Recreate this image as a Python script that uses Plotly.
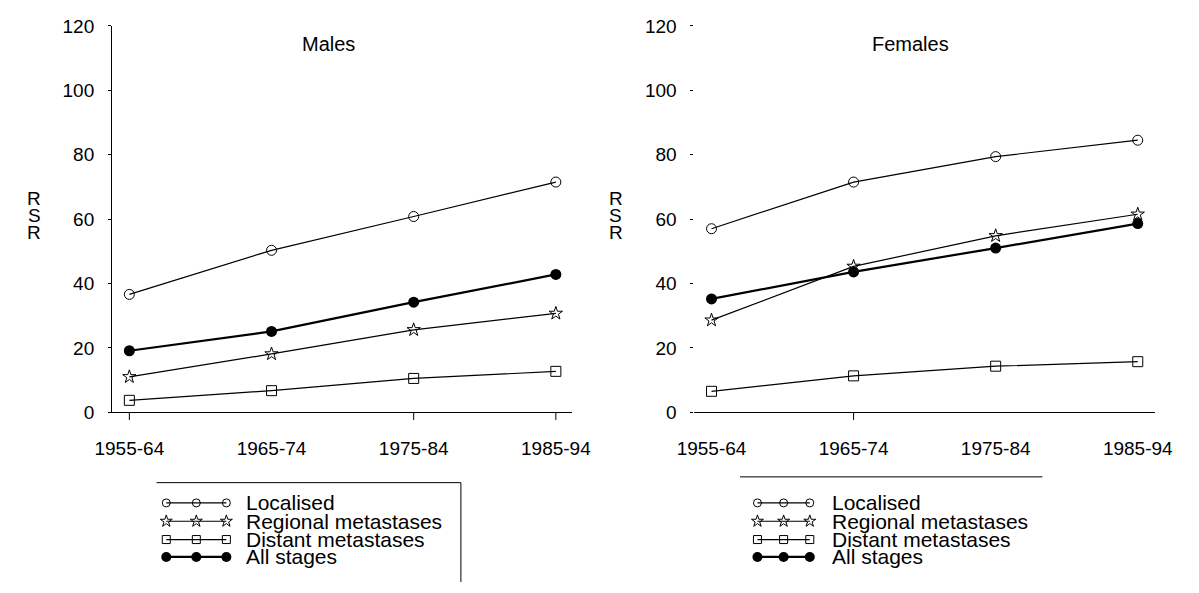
import plotly.graph_objects as go

# Period categories on the x axis
periods = ["1955-64", "1965-74", "1975-84", "1985-94"]

# Relative survival rate (%) by stage, males
males_localised = [36.6, 50.3, 60.8, 71.5]
males_regional = [11.0, 18.1, 25.6, 30.7]
males_distant = [3.7, 6.7, 10.5, 12.7]
males_all = [19.1, 25.1, 34.2, 42.8]

# Relative survival rate (%) by stage, females
females_localised = [57.0, 71.5, 79.4, 84.5]
females_regional = [28.6, 45.3, 54.8, 61.5]
females_distant = [6.5, 11.3, 14.3, 15.7]
females_all = [35.2, 43.6, 51.0, 58.6]

y_ticks = [0, 20, 40, 60, 80, 100, 120]
stage_names = ["Localised", "Regional metastases", "Distant metastases", "All stages"]

W, H = 1199, 593
FONT = "Liberation Sans, Arial, Helvetica, sans-serif"
BLACK = "#000000"

# marker / line style per stage (plot size, legend size)
styles = {
    "Localised": dict(symbol="circle-open", size=10, lsize=8, lw=1.2, mlw=1),
    "Regional metastases": dict(symbol="star-open", size=10, lsize=9, lw=1.2, mlw=1),
    "Distant metastases": dict(symbol="square-open", size=10, lsize=8, lw=1.2, mlw=1),
    "All stages": dict(symbol="circle", size=11, lsize=10, lw=2.2, mlw=0),
}

fig = go.Figure()


def add_series(values, name, xa, ya):
    st = styles[name]
    fig.add_trace(go.Scatter(
        x=periods, y=values, name=name, mode="lines+markers",
        xaxis=xa, yaxis=ya, showlegend=False,
        line=dict(color=BLACK, width=st["lw"]),
        marker=dict(symbol=st["symbol"], size=st["size"], color=BLACK,
                    line=dict(color=BLACK, width=st["mlw"])),
    ))


for vals, nm in zip([males_localised, males_regional, males_distant, males_all], stage_names):
    add_series(vals, nm, "x", "y")
for vals, nm in zip([females_localised, females_regional, females_distant, females_all], stage_names):
    add_series(vals, nm, "x2", "y2")

# ---- hand-drawn legends on an invisible pixel-scaled overlay axis ----
legend_rows = [511, 530, 549, 567]
legend_blocks = [
    dict(xs=[153, 184, 215], text_x=233),
    dict(xs=[763, 790, 817], text_x=838),
]
annotations = []
for blk in legend_blocks:
    for nm, ry in zip(stage_names, legend_rows):
        st = styles[nm]
        fig.add_trace(go.Scatter(
            x=blk["xs"], y=[ry] * len(blk["xs"]), mode="lines+markers",
            xaxis="x3", yaxis="y3", showlegend=False, hoverinfo="skip",
            line=dict(color=BLACK, width=st["lw"]),
            marker=dict(symbol=st["symbol"], size=st["lsize"], color=BLACK,
                        line=dict(color=BLACK, width=st["mlw"])),
        ))
        annotations.append(dict(
            x=blk["text_x"], y=ry, xref="x3", yref="y3", text=nm,
            showarrow=False, xanchor="left", yanchor="middle",
            font=dict(family=FONT, size=21, color=BLACK),
        ))

# panel titles
for txt, cx in [("Males", 320), ("Females", 921)]:
    annotations.append(dict(
        x=cx, y=35, xref="x3", yref="y3", text=txt, showarrow=False,
        xanchor="center", yanchor="middle",
        font=dict(family=FONT, size=20, color=BLACK),
    ))

# stacked y-axis titles
for cx in [17, 617]:
    for letter, ly in zip(["R", "S", "R"], [195, 213, 231]):
        annotations.append(dict(
            x=cx, y=ly, xref="x3", yref="y3", text=letter, showarrow=False,
            xanchor="center", yanchor="middle",
            font=dict(family=FONT, size=19, color=BLACK),
        ))

# legend frame lines and x tick marks
shapes = [
    dict(type="line", xref="x3", yref="y3", x0=143, x1=457, y0=490, y1=490,
         line=dict(color=BLACK, width=1)),
    dict(type="line", xref="x3", yref="y3", x0=457, x1=457, y0=490, y1=593,
         line=dict(color=BLACK, width=1)),
    dict(type="line", xref="x3", yref="y3", x0=745, x1=1057, y0=484, y1=484,
         line=dict(color=BLACK, width=1)),
]
for xa, idxs in [("x", [0, 2, 3]), ("x2", [1])]:
    ya = "y" if xa == "x" else "y2"
    for i in idxs:
        shapes.append(dict(type="line", xref=xa, yref=ya + " domain",
                           x0=i, x1=i, y0=0, y1=-0.02,
                           line=dict(color=BLACK, width=1)))

y_bottom = (H - 417) / H
y_top = (H - 16.5) / H

common_x = dict(type="category", categoryorder="array", categoryarray=periods,
                showgrid=False, zeroline=False, ticks="",
                tickfont=dict(family=FONT, size=19, color=BLACK),
                ticklabelstandoff=19, showline=True, linecolor=BLACK, linewidth=1)
common_y = dict(range=[0, 120], tickvals=y_ticks, showgrid=False, zeroline=False,
                ticks="outside", ticklen=3, tickcolor=BLACK, tickwidth=1,
                tickfont=dict(family=FONT, size=19, color=BLACK),
                ticklabelstandoff=10, domain=[y_bottom, y_top])

fig.update_layout(
    width=W, height=H,
    margin=dict(l=0, r=0, t=0, b=0),
    paper_bgcolor="white", plot_bgcolor="rgba(0,0,0,0)",
    font=dict(family=FONT, color=BLACK),
    xaxis=dict(domain=[97 / W, 572 / W], range=[-0.122, 3.116], anchor="y", **common_x),
    yaxis=dict(anchor="x", showline=True, linecolor=BLACK, linewidth=1, **common_y),
    xaxis2=dict(domain=[698 / W, 1173 / W], range=[-0.12, 3.12], anchor="y2", **common_x),
    yaxis2=dict(anchor="x2", showline=False, **common_y),
    xaxis3=dict(domain=[0, 1], range=[0, W], visible=False, fixedrange=True, anchor="y3"),
    yaxis3=dict(domain=[0, 1], range=[H, 0], visible=False, fixedrange=True, anchor="x3"),
    annotations=annotations,
    shapes=shapes,
    showlegend=False,
)

fig.write_html("out.html")
